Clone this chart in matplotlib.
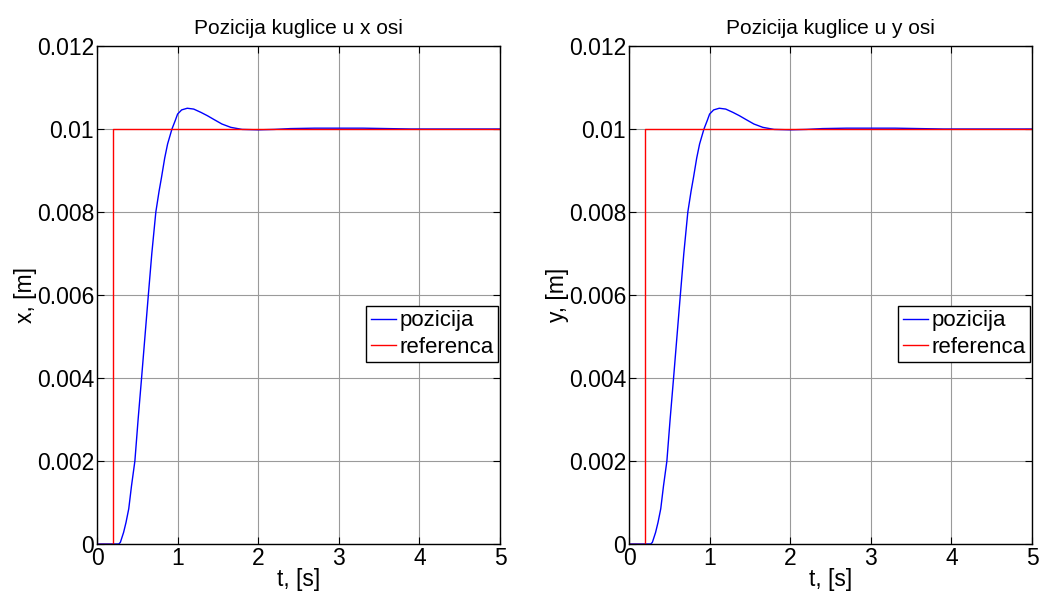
import matplotlib
matplotlib.use("Agg")
import matplotlib.pyplot as plt

plt.rcParams['font.family'] = ['Liberation Sans', 'DejaVu Sans']

# time samples [s] and ball position [m] (same for x and y)
t_pos = [0, 0.2, 0.27, 0.29, 0.33, 0.36, 0.394, 0.428, 0.47, 0.51, 0.553, 0.595,
         0.637, 0.68, 0.73, 0.77, 0.80, 0.84, 0.876, 0.93, 0.97, 1.0, 1.05, 1.12,
         1.2, 1.29, 1.37, 1.45, 1.55, 1.66, 1.8, 2.0, 2.2, 2.4, 2.7, 3.0, 3.3,
         3.6, 3.9, 4.2, 5.0]
pos = [0, 0, 0, 0.00004, 0.00028, 0.00052, 0.00085, 0.0014, 0.002, 0.003, 0.004,
       0.005, 0.006, 0.007, 0.008, 0.0085, 0.00883, 0.0093, 0.00964, 0.01, 0.0102,
       0.01036, 0.01046, 0.0105, 0.01048, 0.0104, 0.01032, 0.01023, 0.01012,
       0.01004, 0.00999, 0.00998, 0.00999, 0.01001, 0.01002, 0.01002, 0.01002,
       0.01001, 0.01, 0.01, 0.01]
# reference step
t_ref = [0, 0.2, 0.2, 5.0]
ref = [0, 0, 0.01, 0.01]

titles = ['Pozicija kuglice u x osi', 'Pozicija kuglice u y osi']
ylabels = ['x, [m]', 'y, [m]']
xlabel = 't, [s]'
legend_labels = ['pozicija', 'referenca']
xticks = [0, 1, 2, 3, 4, 5]
yticks = [0, 0.002, 0.004, 0.006, 0.008, 0.01, 0.012]
ytick_labels = ['0', '0.002', '0.004', '0.006', '0.008', '0.01', '0.012']

fig = plt.figure(figsize=(10.4, 5.95), dpi=100)
lefts = [97 / 1040, 629 / 1040]
for i in range(2):
    ax = fig.add_axes([lefts[i], 1 - 544 / 595, 403 / 1040, 498 / 595])
    ax.plot(t_pos, pos, color='#0000ff', lw=1.0, label=legend_labels[0])
    ax.plot(t_ref, ref, color='#ff0000', lw=1.0, label=legend_labels[1])
    ax.set_xlim(0, 5)
    ax.set_ylim(0, 0.012)
    ax.set_xticks(xticks)
    ax.set_yticks(yticks)
    ax.set_yticklabels(ytick_labels)
    ax.grid(True, color='#9a9a9a', lw=0.8, ls='-')
    ax.set_axisbelow(True)
    ax.tick_params(direction='in', top=True, right=True, labelsize=16.5,
                   length=5, width=0.8, pad=2)
    for s in ax.spines.values():
        s.set_linewidth(1.0)
        s.set_color('black')
    ax.set_title(titles[i], fontsize=15, pad=9)
    ax.set_xlabel(xlabel, fontsize=16.5, labelpad=-1)
    ax.set_ylabel(ylabels[i], fontsize=16.5, labelpad=0)
    leg = ax.legend(loc='upper right', bbox_to_anchor=(0.996, 0.478),
                    fontsize=16, fancybox=False, framealpha=1,
                    edgecolor='black', handlelength=1.15, handletextpad=0.15,
                    borderpad=0.2, labelspacing=0.25, borderaxespad=0)
    leg.get_frame().set_linewidth(1.0)

fig.savefig('out.png', dpi=100)
